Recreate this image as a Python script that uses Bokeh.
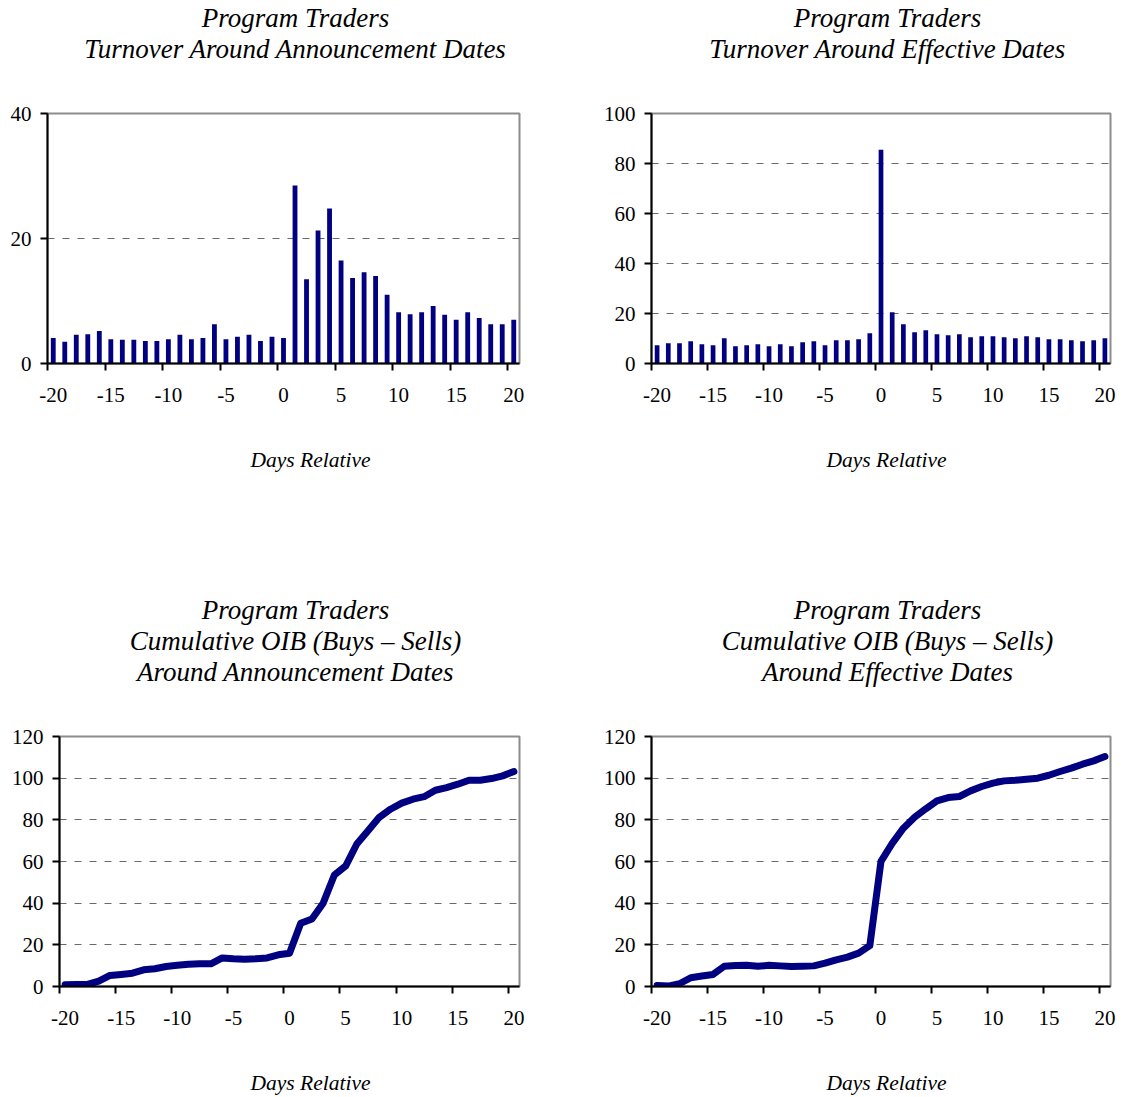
from bokeh.plotting import figure
from bokeh.models import Range1d, FixedTicker, Label
from bokeh.layouts import column, row
from bokeh.embed import file_html
from bokeh.resources import INLINE

# ---------------- data ----------------
days = list(range(-20, 21))

turnover_announce = [4.1, 3.5, 4.6, 4.7, 5.2, 3.9, 3.8, 3.8, 3.6, 3.6, 3.9,
                     4.6, 3.9, 4.1, 6.3, 3.9, 4.3, 4.6, 3.6, 4.3, 4.1,
                     28.5, 13.5, 21.3, 24.8, 16.5, 13.7, 14.6, 14.0, 11.0, 8.2,
                     7.9, 8.2, 9.2, 7.8, 7.0, 8.2, 7.3, 6.3, 6.3, 7.0]

turnover_effective = [7.3, 8.1, 8.1, 8.9, 7.7, 7.3, 10.1, 6.9, 7.3, 7.7,
                      6.9, 7.7, 6.9, 8.5, 8.9, 7.3, 9.3, 9.3, 9.7, 12.1,
                      85.5,
                      20.5, 15.7, 12.5, 13.3, 11.7, 11.3, 11.7, 10.5, 10.9, 10.9,
                      10.5, 10.1, 10.9, 10.5, 9.7, 9.7, 9.3, 8.9, 9.3, 10.1]

oib_announce = [0.8, 1.0, 1.0, 2.6, 5.3, 5.8, 6.4, 8.0, 8.5, 9.6, 10.2,
                10.7, 10.9, 10.9, 13.7, 13.3, 13.1, 13.3, 13.7, 15.2, 16.0,
                30.4, 32.4, 40.0, 53.5, 57.8, 68.4, 74.8, 81.2, 85.1, 88.0,
                89.9, 91.1, 94.2, 95.5, 97.1, 99.0, 99.0, 99.8, 101.1, 103.2]

oib_effective = [0.5, 0.2, 1.3, 4.2, 5.0, 5.8, 9.7, 10.1, 10.2, 9.7,
                 10.2, 9.9, 9.6, 9.7, 9.9, 11.2, 12.8, 14.1, 16.0, 19.6,
                 60.1,
                 68.7, 76.0, 81.2, 85.3, 89.1, 90.7, 91.2, 93.9, 96.0, 97.6,
                 98.7, 99.0, 99.5, 100.0, 101.4, 103.2, 104.8, 106.7, 108.3, 110.4]

x_tick_labels = [-20, -15, -10, -5, 0, 5, 10, 15, 20]
y_ticks_announce_turnover = [0, 20, 40]
y_ticks_effective_turnover = [0, 20, 40, 60, 80, 100]
y_ticks_oib = [0, 20, 40, 60, 80, 100, 120]

titles = [
    ["Program Traders", "Turnover Around Announcement Dates"],
    ["Program Traders", "Turnover Around Effective Dates"],
    ["Program Traders", "Cumulative OIB (Buys \u2013 Sells)", "Around Announcement Dates"],
    ["Program Traders", "Cumulative OIB (Buys \u2013 Sells)", "Around Effective Dates"],
]
x_label = "Days Relative"

# ---------------- style / layout ----------------
NAVY = "#000080"
FONT = "Liberation Serif"
TITLE_SIZE = "27px"
TICK_SIZE = "21px"
XLABEL_SIZE = "21.5px"

PAGE_W = 1124
WL, WR = 580, 544
STRIP_TOP_H, ROW1_H, STRIP_MID_H, ROW2_H, STRIP_BOT_H = 95, 325, 298, 322, 57
ROW1_Y = STRIP_TOP_H
MID_Y = ROW1_Y + ROW1_H
ROW2_Y = MID_Y + STRIP_MID_H
BOT_Y = ROW2_Y + ROW2_H

LEFT_CX_TITLE, RIGHT_CX_TITLE = 295, 887
LEFT_CX_XLAB, RIGHT_CX_XLAB = 310, 886


def text_strip(height, y0, items):
    s = figure(width=PAGE_W, height=height, output_backend="svg",
               toolbar_location=None, tools="",
               x_range=Range1d(0, PAGE_W), y_range=Range1d(y0 + height, y0),
               x_axis_type=None, y_axis_type=None, min_border=0,
               background_fill_color="white", border_fill_color="white")
    s.outline_line_color = None
    s.xgrid.visible = False
    s.ygrid.visible = False
    for txt, x, y, size in items:
        s.add_layout(Label(x=x, y=y, text=txt, text_align="center",
                           text_baseline="middle", text_font=FONT,
                           text_font_style="italic", text_font_size=size,
                           text_color="black"))
    return s


def make_panel(kind, values, y_ticks, width, height, b_left, b_top, f_w, f_h):
    p = figure(width=width, height=height, output_backend="svg",
               toolbar_location=None, tools="",
               x_range=Range1d(days[0] - 0.5, days[-1] + 0.5),
               y_range=Range1d(y_ticks[0], y_ticks[-1]),
               min_border_left=b_left, min_border_top=b_top,
               min_border_right=width - b_left - f_w,
               min_border_bottom=height - b_top - f_h,
               background_fill_color="white", border_fill_color="white")
    p.outline_line_color = "#8c8c8c"
    p.outline_line_width = 2

    if kind == "bar":
        p.vbar(x=days, top=values, bottom=0, width=0.42,
               fill_color=NAVY, line_color=None)
    else:
        p.line(x=days, y=values, line_color=NAVY, line_width=7,
               line_cap="round", line_join="round")

    xa = p.xaxis[0]
    xa.ticker = FixedTicker(ticks=x_tick_labels,
                            minor_ticks=[t - 0.5 for t in x_tick_labels])
    xa.major_label_overrides = {t: str(t) for t in x_tick_labels}
    xa.major_tick_out = 0
    xa.major_tick_in = 0
    xa.minor_tick_out = 7
    xa.minor_tick_in = 0
    xa.minor_tick_line_color = "black"
    xa.minor_tick_line_width = 2
    xa.axis_line_color = "black"
    xa.axis_line_width = 2
    xa.major_label_standoff = 17
    xa.major_label_text_font = FONT
    xa.major_label_text_font_size = TICK_SIZE
    xa.major_label_text_color = "black"

    ya = p.yaxis[0]
    ya.ticker = FixedTicker(ticks=y_ticks, minor_ticks=[])
    ya.major_tick_out = 7
    ya.major_tick_in = 0
    ya.major_tick_line_color = "black"
    ya.major_tick_line_width = 2
    ya.minor_tick_out = 0
    ya.minor_tick_in = 0
    ya.axis_line_color = "black"
    ya.axis_line_width = 2
    ya.major_label_standoff = 9
    ya.major_label_text_font = FONT
    ya.major_label_text_font_size = TICK_SIZE
    ya.major_label_text_color = "black"

    p.xgrid.visible = False
    p.ygrid.grid_line_color = "#6a6a6a"
    p.ygrid.grid_line_width = 1.2
    p.ygrid.grid_line_dash = "7 8"
    return p


p1 = make_panel("bar", turnover_announce, y_ticks_announce_turnover,
                WL, ROW1_H, 47, 18, 472, 250)
p2 = make_panel("bar", turnover_effective, y_ticks_effective_turnover,
                WR, ROW1_H, 71, 18, 459, 250)
p3 = make_panel("line", oib_announce, y_ticks_oib,
                WL, ROW2_H, 59, 18, 460, 250)
p4 = make_panel("line", oib_effective, y_ticks_oib,
                WR, ROW2_H, 71, 18, 459, 250)

top_items = []
for i, ty in enumerate([17, 48]):
    top_items.append((titles[0][i], LEFT_CX_TITLE, ty, TITLE_SIZE))
    top_items.append((titles[1][i], RIGHT_CX_TITLE, ty, TITLE_SIZE))

mid_items = [(x_label, LEFT_CX_XLAB, 459, XLABEL_SIZE),
             (x_label, RIGHT_CX_XLAB, 459, XLABEL_SIZE)]
for i, ty in enumerate([609, 640, 671]):
    mid_items.append((titles[2][i], LEFT_CX_TITLE, ty, TITLE_SIZE))
    mid_items.append((titles[3][i], RIGHT_CX_TITLE, ty, TITLE_SIZE))

bot_items = [(x_label, LEFT_CX_XLAB, 1082, XLABEL_SIZE),
             (x_label, RIGHT_CX_XLAB, 1082, XLABEL_SIZE)]

s_top = text_strip(STRIP_TOP_H, 0, top_items)
s_mid = text_strip(STRIP_MID_H, MID_Y, mid_items)
s_bot = text_strip(STRIP_BOT_H, BOT_Y, bot_items)

layout = column(s_top,
                row(p1, p2, spacing=0),
                s_mid,
                row(p3, p4, spacing=0),
                s_bot,
                spacing=0)

open("out.html", "w").write(file_html(layout, INLINE))
